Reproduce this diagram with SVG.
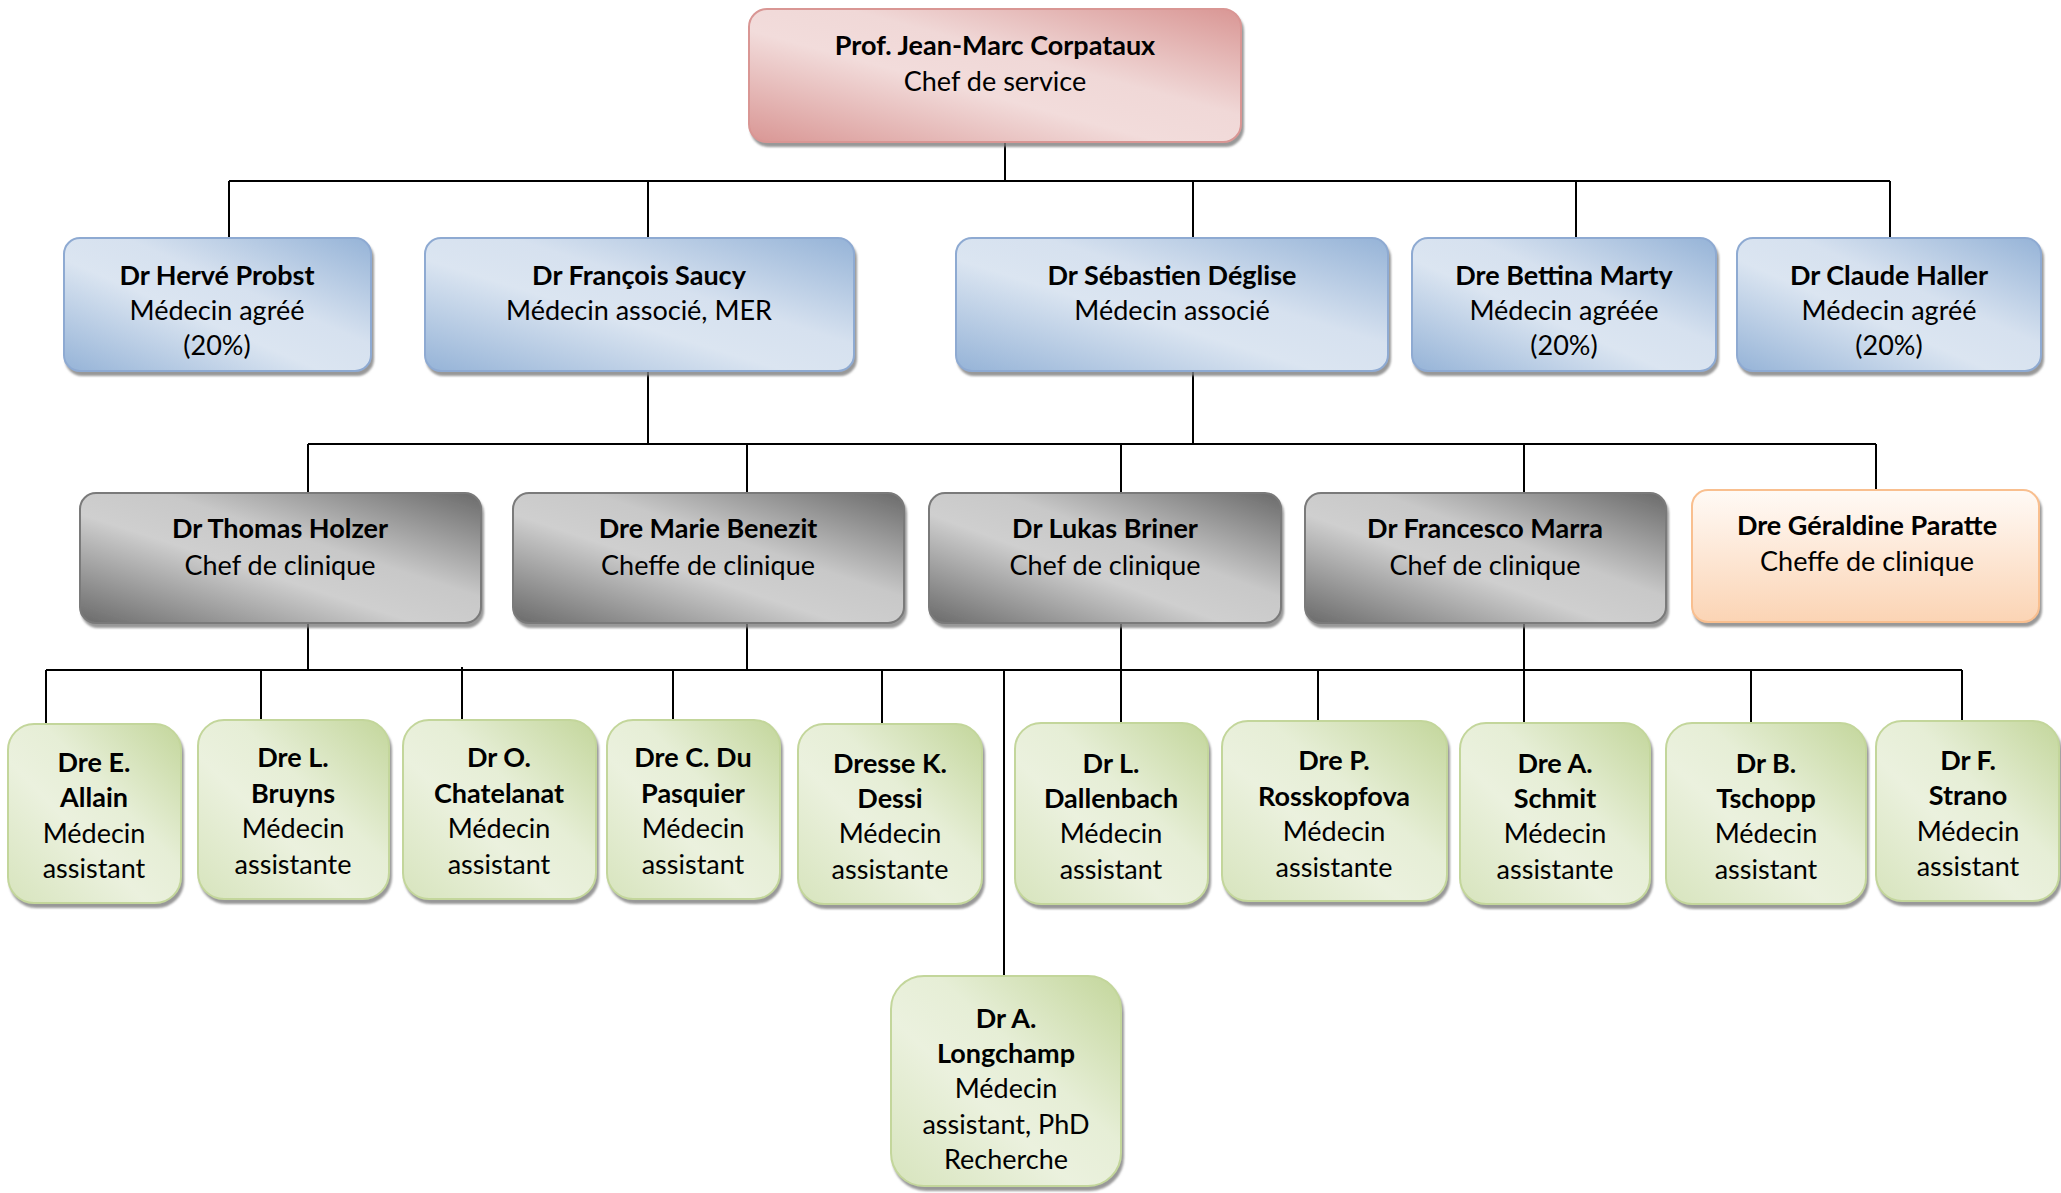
<svg xmlns="http://www.w3.org/2000/svg" width="2061" height="1193" viewBox="0 0 2061 1193">
<defs>
<linearGradient id="gPink" x1="0" y1="1" x2="1" y2="0"><stop offset="0" stop-color="#d99694"/><stop offset="0.42" stop-color="#f2dcdb"/><stop offset="0.6" stop-color="#f0d8d7"/><stop offset="1" stop-color="#d99694"/></linearGradient>
<linearGradient id="gBlue" x1="0" y1="1" x2="1" y2="0"><stop offset="0" stop-color="#95b3d7"/><stop offset="0.42" stop-color="#dbe5f1"/><stop offset="0.6" stop-color="#d6e1ef"/><stop offset="1" stop-color="#95b3d7"/></linearGradient>
<linearGradient id="gGray" x1="0" y1="1" x2="1" y2="0"><stop offset="0" stop-color="#6a6a6a"/><stop offset="0.42" stop-color="#cfcfcf"/><stop offset="0.6" stop-color="#c8c8c8"/><stop offset="1" stop-color="#6a6a6a"/></linearGradient>
<linearGradient id="gGreen" x1="0" y1="1" x2="1" y2="0"><stop offset="0" stop-color="#d7e4bd"/><stop offset="0.4" stop-color="#ebf1de"/><stop offset="0.6" stop-color="#e6eed6"/><stop offset="1" stop-color="#c3d69b"/></linearGradient>
<linearGradient id="gOrange" x1="0" y1="0" x2="0" y2="1"><stop offset="0" stop-color="#fffaf6"/><stop offset="1" stop-color="#fbd4b4"/></linearGradient>
<filter id="sh" x="-5%" y="-5%" width="115%" height="120%"><feGaussianBlur in="SourceAlpha" stdDeviation="1.2"/><feOffset dx="2" dy="4" result="o"/><feFlood flood-color="#7f7f7f" flood-opacity="0.8"/><feComposite in2="o" operator="in"/><feMerge><feMergeNode/><feMergeNode in="SourceGraphic"/></feMerge></filter>
</defs>
<style>
text{font-family:Lato,"Liberation Sans",sans-serif;font-size:27px;fill:#000;text-anchor:middle}
.n{font-weight:bold}
.pink{fill:url(#gPink);stroke:#d99694;stroke-width:2;filter:url(#sh)}
.blue{fill:url(#gBlue);stroke:#8eaad2;stroke-width:2;filter:url(#sh)}
.gray{fill:url(#gGray);stroke:#7a7a7a;stroke-width:2;filter:url(#sh)}
.green{fill:url(#gGreen);stroke:#c3d69b;stroke-width:2;filter:url(#sh)}
.orange{fill:url(#gOrange);stroke:#f9bf8f;stroke-width:2;filter:url(#sh)}
.c{fill:none;stroke:#000;stroke-width:2}
</style>
<rect width="2061" height="1193" fill="#fff"/>
<g id="connectors" class="c">
<path class="c" d="M1005 142V181M229 181H1890M229 181V238M648 181V238M1193 181V238M1576 181V238M1890 181V238"/>
<path class="c" d="M648 370V444M1193 370V444M308 444H1876M308 444V493M747 444V493M1121 444V493M1524 444V493M1876 444V490"/>
<path class="c" d="M308 623V670M747 623V670M1121 623V723M1524 623V723M46 670H1962M46 670V724M261 670V720M462 667V720M673 670V720M882 670V724M1318 670V721M1751 670V723M1962 670V721M1004 670V976"/>
</g>
<g id="n-corpataux"><rect class="pink" x="749" y="9" width="492" height="133" rx="18"/><text class="n" x="995" y="55">Prof. Jean-Marc Corpataux</text><text x="995" y="91">Chef de service</text></g>
<g id="n-probst"><rect class="blue" x="64" y="238" width="307" height="133" rx="16"/><text class="n" x="217" y="285">Dr Hervé Probst</text><text x="217" y="320">Médecin agréé</text><text x="217" y="355">(20%)</text></g>
<g id="n-saucy"><rect class="blue" x="425" y="238" width="429" height="133" rx="16"/><text class="n" x="639" y="285">Dr François Saucy</text><text x="639" y="320">Médecin associé, MER</text></g>
<g id="n-deglise"><rect class="blue" x="956" y="238" width="432" height="133" rx="16"/><text class="n" x="1172" y="285">Dr Sébastien Déglise</text><text x="1172" y="320">Médecin associé</text></g>
<g id="n-marty"><rect class="blue" x="1412" y="238" width="304" height="133" rx="16"/><text class="n" x="1564" y="285">Dre Bettina Marty</text><text x="1564" y="320">Médecin agréée</text><text x="1564" y="355">(20%)</text></g>
<g id="n-haller"><rect class="blue" x="1737" y="238" width="304" height="133" rx="16"/><text class="n" x="1889" y="285">Dr Claude Haller</text><text x="1889" y="320">Médecin agréé</text><text x="1889" y="355">(20%)</text></g>
<g id="n-holzer"><rect class="gray" x="80" y="493" width="401" height="130" rx="16"/><text class="n" x="280" y="538">Dr Thomas Holzer</text><text x="280" y="575">Chef de clinique</text></g>
<g id="n-benezit"><rect class="gray" x="513" y="493" width="391" height="130" rx="16"/><text class="n" x="708" y="538">Dre Marie Benezit</text><text x="708" y="575">Cheffe de clinique</text></g>
<g id="n-briner"><rect class="gray" x="929" y="493" width="352" height="130" rx="16"/><text class="n" x="1105" y="538">Dr Lukas Briner</text><text x="1105" y="575">Chef de clinique</text></g>
<g id="n-marra"><rect class="gray" x="1305" y="493" width="361" height="130" rx="16"/><text class="n" x="1485" y="538">Dr Francesco Marra</text><text x="1485" y="575">Chef de clinique</text></g>
<g id="n-paratte"><rect class="orange" x="1692" y="490" width="347" height="132" rx="16"/><text class="n" x="1867" y="535">Dre Géraldine Paratte</text><text x="1867" y="571">Cheffe de clinique</text></g>
<g id="n-allain"><rect class="green" x="8" y="724" width="173" height="179" rx="26"/><text class="n" x="94" y="772">Dre E.</text><text class="n" x="94" y="807">Allain</text><text x="94" y="843">Médecin</text><text x="94" y="878">assistant</text></g>
<g id="n-bruyns"><rect class="green" x="198" y="720" width="191" height="179" rx="26"/><text class="n" x="293" y="767">Dre L.</text><text class="n" x="293" y="803">Bruyns</text><text x="293" y="838">Médecin</text><text x="293" y="874">assistante</text></g>
<g id="n-chatelanat"><rect class="green" x="403" y="720" width="193" height="179" rx="26"/><text class="n" x="499" y="767">Dr O.</text><text class="n" x="499" y="803">Chatelanat</text><text x="499" y="838">Médecin</text><text x="499" y="874">assistant</text></g>
<g id="n-dupasquier"><rect class="green" x="607" y="720" width="173" height="179" rx="26"/><text class="n" x="693" y="767">Dre C. Du</text><text class="n" x="693" y="803">Pasquier</text><text x="693" y="838">Médecin</text><text x="693" y="874">assistant</text></g>
<g id="n-dessi"><rect class="green" x="798" y="724" width="184" height="180" rx="26"/><text class="n" x="890" y="773">Dresse K.</text><text class="n" x="890" y="808">Dessi</text><text x="890" y="843">Médecin</text><text x="890" y="879">assistante</text></g>
<g id="n-dallenbach"><rect class="green" x="1015" y="723" width="193" height="181" rx="26"/><text class="n" x="1111" y="773">Dr L.</text><text class="n" x="1111" y="808">Dallenbach</text><text x="1111" y="843">Médecin</text><text x="1111" y="879">assistant</text></g>
<g id="n-rosskopfova"><rect class="green" x="1222" y="721" width="225" height="180" rx="26"/><text class="n" x="1334" y="770">Dre P.</text><text class="n" x="1334" y="806">Rosskopfova</text><text x="1334" y="841">Médecin</text><text x="1334" y="877">assistante</text></g>
<g id="n-schmit"><rect class="green" x="1460" y="723" width="190" height="181" rx="26"/><text class="n" x="1555" y="773">Dre A.</text><text class="n" x="1555" y="808">Schmit</text><text x="1555" y="843">Médecin</text><text x="1555" y="879">assistante</text></g>
<g id="n-tschopp"><rect class="green" x="1666" y="723" width="200" height="181" rx="26"/><text class="n" x="1766" y="773">Dr B.</text><text class="n" x="1766" y="808">Tschopp</text><text x="1766" y="843">Médecin</text><text x="1766" y="879">assistant</text></g>
<g id="n-strano"><rect class="green" x="1876" y="721" width="183" height="180" rx="26"/><text class="n" x="1968" y="770">Dr F.</text><text class="n" x="1968" y="805">Strano</text><text x="1968" y="841">Médecin</text><text x="1968" y="876">assistant</text></g>
<g id="n-longchamp"><rect class="green" x="891" y="976" width="230" height="210" rx="33"/><text class="n" x="1006" y="1028">Dr A.</text><text class="n" x="1006" y="1063">Longchamp</text><text x="1006" y="1098">Médecin</text><text x="1006" y="1134">assistant, PhD</text><text x="1006" y="1169">Recherche</text></g>
</svg>
